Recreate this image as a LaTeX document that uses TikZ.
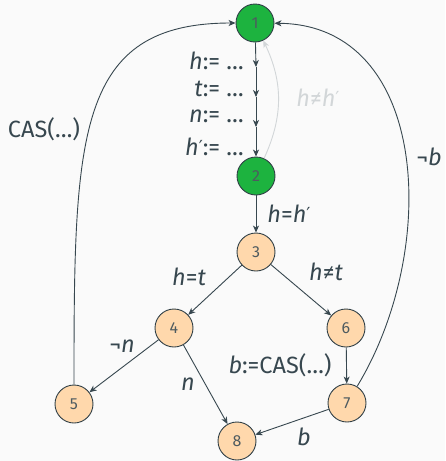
\documentclass[tikz,border=0pt]{standalone}
\usepackage{fontspec}
\setmainfont{Fira Sans}
\newfontfamily\symfont{DejaVu Sans}
\usetikzlibrary{arrows.meta}
\definecolor{bgcol}{HTML}{FAFAFA}
\definecolor{ink}{HTML}{37474F}
\definecolor{numink}{HTML}{4E5B60}
\definecolor{greenfill}{HTML}{1DB33F}
\definecolor{peach}{HTML}{FFD8AC}
\definecolor{faint}{HTML}{D2D6D8}
\tikzset{
  state/.style={circle, draw=ink!90!black, line width=0.9pt, minimum size=38pt,
    inner sep=0pt, font=\fontsize{16}{16}\selectfont, text=numink},
  startstate/.style={state, fill=greenfill},
  workstate/.style={state, fill=peach},
  flow/.style={draw=ink, line width=0.9pt, -{Stealth[length=7pt,width=6pt,inset=2pt]}},
  lbl/.style={font=\fontsize{23.5}{23.5}\selectfont, text=ink, inner sep=1pt},
}
\newcommand{\iv}[1]{\textit{#1}}
\newcommand{\pr}{{\symfont\fontsize{18}{18}\selectfont\raisebox{0.1em}{′}}}
\begin{document}
\begin{tikzpicture}[x=1pt, y=-1pt]
  \fill[bgcol] (0,0) rectangle (445,461);
  \useasboundingbox (0,0) rectangle (445,461);

  % states
  \node[startstate] (n1) at (255,23) {1};
  \node[startstate] (n2) at (256,176) {2};
  \node[workstate] (n3) at (256,252) {3};
  \node[workstate] (n4) at (174,328) {4};
  \node[workstate] (n6) at (346,328) {6};
  \node[workstate] (n5) at (74,404) {5};
  \node[workstate] (n7) at (347,403) {7};
  \node[workstate] (n8) at (237,441) {8};

  % assignment chain between 1 and 2
  \coordinate (a1) at (256,67);
  \coordinate (a2) at (256,97);
  \coordinate (a3) at (256,127);
  \draw[flow] (n1) -- (a1);
  \draw[flow] (a1) -- (a2);
  \draw[flow] (a2) -- (a3);
  \draw[flow] (a3) -- (n2);
  \node[lbl, anchor=east] (l1) at (245,61) {\iv{h}:= …};
  \node[lbl, anchor=east] (l2) at (245,89) {\iv{t}:= …};
  \node[lbl, anchor=east] (l3) at (245,116) {\iv{n}:= …};
  \node[lbl, anchor=east] (l4) at (245,147) {\iv{h}\pr:= …};

  % retry when the snapshot changed
  \draw[flow, draw=faint] (n2) to[bend right=25] (n1);
  \node[lbl, text=faint] (lr) at (318,98) {\iv{h}≠\iv{h}\pr};

  % main branches
  \draw[flow] (n2) -- (n3);
  \node[lbl] (l23) at (289,214) {\iv{h}=\iv{h}\pr};
  \draw[flow] (n3) -- (n4);
  \node[lbl] (l34) at (189,277) {\iv{h}=\iv{t}};
  \draw[flow] (n3) -- (n6);
  \node[lbl] (l36) at (326,272) {\iv{h}≠\iv{t}};
  \draw[flow] (n6) -- (n7);
  \node[lbl] (l67) at (280,365) {\iv{b}:=CAS(…)};
  \draw[flow] (n4) -- (n5);
  \node[lbl] (l45) at (122,346) {¬\iv{n}};
  \draw[flow] (n4) -- (n8);
  \node[lbl] (l48) at (188,384) {\iv{n}};
  \draw[flow] (n7) -- (n8);
  \node[lbl] (l78) at (304,437) {\iv{b}};

  % loops back to the start
  \draw[flow] (n5) .. controls (74,135) and (76,23) .. (n1);
  \node[lbl] (l51) at (44,129) {CAS(…)};
  \draw[flow] (n7) .. controls (440,250) and (430,25) .. (n1);
  \node[lbl] (l71) at (429,157) {¬\iv{b}};
\end{tikzpicture}
\end{document}
